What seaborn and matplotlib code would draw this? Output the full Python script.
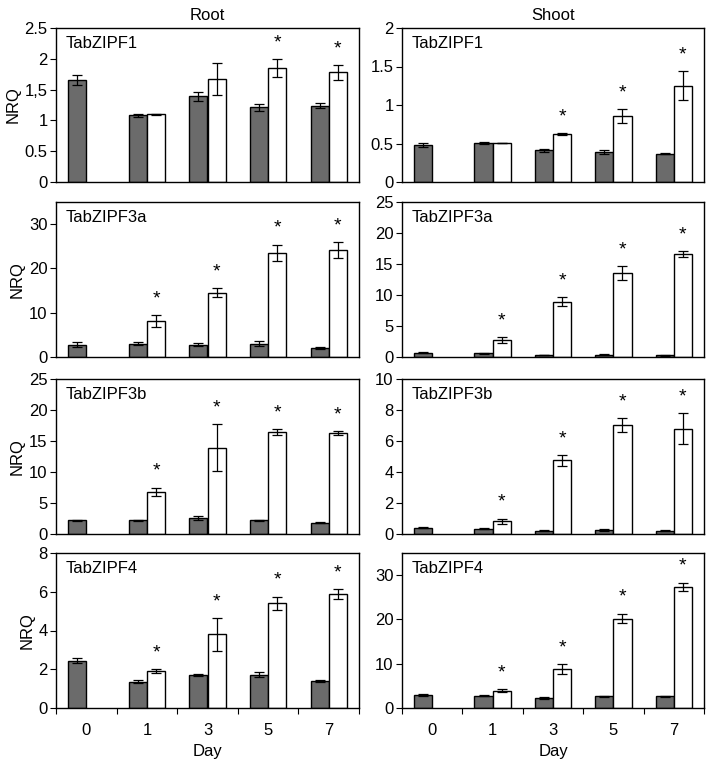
import numpy as np
import pandas as pd
import matplotlib
matplotlib.use("Agg")
import matplotlib.pyplot as plt
import seaborn as sns
from matplotlib.ticker import FixedLocator

sns.set_style("white")
plt.rcParams['font.family'] = ['Liberation Sans', 'DejaVu Sans']
plt.rcParams['text.color'] = 'black'
plt.rcParams['axes.labelcolor'] = 'black'
plt.rcParams['xtick.color'] = 'black'
plt.rcParams['ytick.color'] = 'black'

days = ["0", "1", "3", "5", "7"]
treat_days = ["1", "3", "5", "7"]
genes = ["TabZIPF1", "TabZIPF3a", "TabZIPF3b", "TabZIPF4"]
tissues = ["Root", "Shoot"]

# control (grey) means / errors, days 0,1,3,5,7
root_ctrl = [[1.65, 1.08, 1.39, 1.21, 1.24],
             [2.8, 3.0, 2.8, 3.0, 2.0],
             [2.2, 2.2, 2.6, 2.2, 1.8],
             [2.43, 1.35, 1.70, 1.72, 1.37]]
root_ctrl_err = [[0.08, 0.03, 0.07, 0.06, 0.04],
                 [0.5, 0.3, 0.3, 0.6, 0.3],
                 [0.1, 0.1, 0.3, 0.1, 0.1],
                 [0.13, 0.08, 0.05, 0.12, 0.05]]
# treatment (white) means / errors, days 1,3,5,7
root_trt = [[1.10, 1.67, 1.85, 1.78],
            [8.1, 14.5, 23.5, 24.2],
            [6.8, 13.9, 16.4, 16.3],
            [1.90, 3.80, 5.40, 5.88]]
root_trt_err = [[0.01, 0.26, 0.15, 0.12],
                [1.4, 1.0, 1.9, 1.8],
                [0.7, 3.8, 0.5, 0.3],
                [0.10, 0.85, 0.35, 0.25]]
root_sig = [[False, False, True, True],
            [True, True, True, True],
            [True, True, True, True],
            [True, True, True, True]]

shoot_ctrl = [[0.48, 0.51, 0.41, 0.39, 0.37],
              [0.7, 0.6, 0.3, 0.4, 0.25],
              [0.40, 0.35, 0.22, 0.25, 0.20],
              [3.0, 2.8, 2.3, 2.6, 2.6]]
shoot_ctrl_err = [[0.03, 0.01, 0.02, 0.02, 0.01],
                  [0.1, 0.1, 0.05, 0.05, 0.05],
                  [0.02, 0.05, 0.03, 0.05, 0.03],
                  [0.2, 0.2, 0.2, 0.2, 0.15]]
shoot_trt = [[0.51, 0.62, 0.86, 1.25],
             [2.7, 8.9, 13.6, 16.6],
             [0.83, 4.75, 7.05, 6.80],
             [3.9, 8.8, 20.2, 27.4]]
shoot_trt_err = [[0.0, 0.01, 0.09, 0.19],
                 [0.5, 0.7, 1.1, 0.5],
                 [0.17, 0.35, 0.45, 1.0],
                 [0.3, 1.1, 1.1, 0.9]]
shoot_sig = [[False, True, True, True],
             [True, True, True, True],
             [True, True, True, True],
             [True, True, True, True]]

root_ylim = [2.5, 35, 25, 8]
root_ticks = [[0, 0.5, 1, 1.5, 2, 2.5], [0, 10, 20, 30], [0, 5, 10, 15, 20, 25], [0, 2, 4, 6, 8]]
root_ticklabels = [["0", "0.5", "1", "1,5", "2", "2.5"], None, None, None]
shoot_ylim = [2, 25, 10, 35]
shoot_ticks = [[0, 0.5, 1, 1.5, 2], [0, 5, 10, 15, 20, 25], [0, 2, 4, 6, 8, 10], [0, 10, 20, 30]]
shoot_ticklabels = [["0", "0.5", "1", "1.5", "2"], None, None, None]

W, H = 709, 760
fig = plt.figure(figsize=(W / 100, H / 100), dpi=100)

col_x = [(56, 359), (402, 704)]
row_y = [(28, 182), (202, 357), (379, 534), (553, 708)]

grey = "#6b6b6b"
fs = 12

data_sets = {
    "Root": (root_ctrl, root_ctrl_err, root_trt, root_trt_err, root_sig, root_ylim, root_ticks, root_ticklabels),
    "Shoot": (shoot_ctrl, shoot_ctrl_err, shoot_trt, shoot_trt_err, shoot_sig, shoot_ylim, shoot_ticks, shoot_ticklabels),
}

for c, tissue in enumerate(tissues):
    ctrl, ctrl_err, trt, trt_err, sig, ylims, ticks, ticklabels = data_sets[tissue]
    for r, gene in enumerate(genes):
        x0, x1 = col_x[c]
        y0, y1 = row_y[r]
        ax = fig.add_axes([x0 / W, 1 - y1 / H, (x1 - x0) / W, (y1 - y0) / H])
        rows = []
        for d, v in zip(days, ctrl[r]):
            rows.append({"Day": d, "group": "ctrl", "NRQ": v})
        for d, v in zip(treat_days, trt[r]):
            rows.append({"Day": d, "group": "trt", "NRQ": v})
        df = pd.DataFrame(rows)
        sns.barplot(data=df, x="Day", y="NRQ", hue="group", order=days,
                    hue_order=["ctrl", "trt"], palette={"ctrl": grey, "trt": "white"},
                    width=0.6, errorbar=None, edgecolor="black", linewidth=1.0,
                    legend=False, ax=ax)
        # error bars and asterisks
        ymax = ylims[r]
        ctrl_bars = ax.containers[0]
        trt_bars = ax.containers[1]
        cx = [p.get_x() + p.get_width() / 2 for p in ctrl_bars]
        tx = [p.get_x() + p.get_width() / 2 for p in trt_bars]
        ax.errorbar(cx, ctrl[r], yerr=ctrl_err[r], fmt="none", ecolor="black",
                    elinewidth=0.9, capsize=3.5, capthick=0.9, zorder=5)
        ax.errorbar(tx, trt[r], yerr=trt_err[r], fmt="none", ecolor="black",
                    elinewidth=0.9, capsize=3.5, capthick=0.9, zorder=5)
        for xi, v, e, s in zip(tx, trt[r], trt_err[r], sig[r]):
            if s:
                ax.text(xi, v + e + 0.05 * ymax, "*", ha="center", va="bottom",
                        fontsize=14, color="black")
        ax.set_xlim(-0.5, 4.5)
        ax.set_ylim(0, ymax)
        ax.set_yticks(ticks[r])
        if ticklabels[r] is not None:
            ax.set_yticklabels(ticklabels[r])
        else:
            ax.set_yticklabels([f"{t:g}" for t in ticks[r]])
        ax.tick_params(axis="y", which="major", left=True, length=4, width=0.8,
                       direction="out", labelsize=fs, pad=2, color="black")
        for sp in ax.spines.values():
            sp.set_visible(True)
            sp.set_color("black")
            sp.set_linewidth(1.0)
        ax.text(0.032, 0.9, gene, transform=ax.transAxes, ha="left", va="center", fontsize=fs)
        if c == 0:
            ax.set_ylabel("NRQ", fontsize=fs, labelpad=3)
        else:
            ax.set_ylabel("")
        if r == len(genes) - 1:
            ax.set_xlabel("Day", fontsize=fs, labelpad=4)
            ax.xaxis.set_minor_locator(FixedLocator(np.arange(-0.5, 5.0, 1.0)))
            ax.tick_params(axis="x", which="major", bottom=False, length=0, labelsize=fs, pad=11)
            ax.tick_params(axis="x", which="minor", bottom=True, length=4, width=0.8,
                           direction="out", color="black")
        else:
            ax.set_xlabel("")
            ax.set_xticklabels([])
            ax.tick_params(axis="x", which="both", bottom=False, length=0)
        if r == 0:
            ax.set_title(tissue, fontsize=fs, pad=6)

fig.savefig("out.png", dpi=100)
